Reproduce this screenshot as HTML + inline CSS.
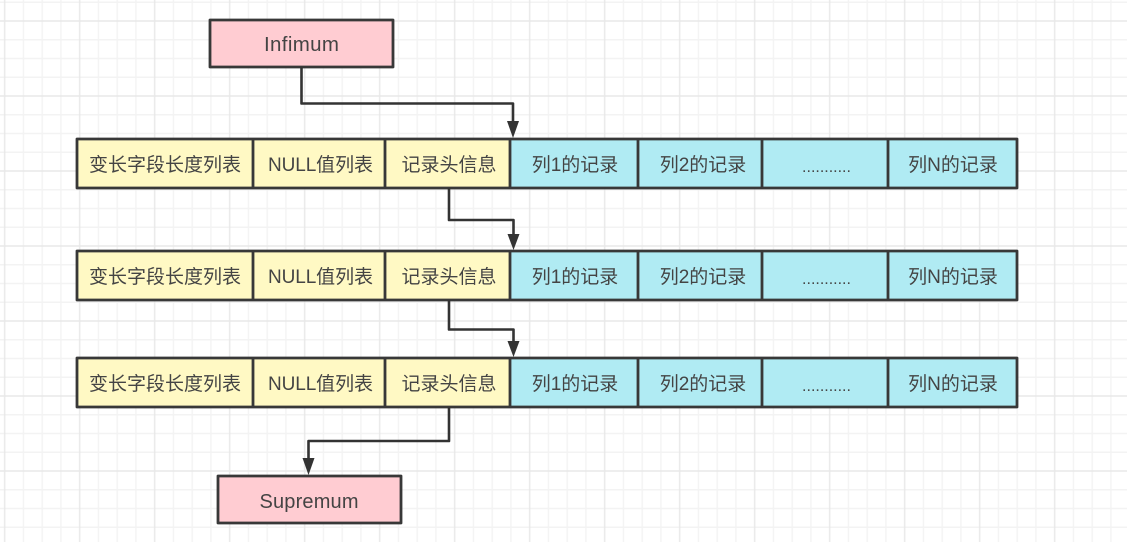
<!DOCTYPE html>
<html><head><meta charset="utf-8">
<style>
html,body{margin:0;padding:0;background:#fff}
svg{display:block}
text{font-family:"Liberation Sans","Noto Sans CJK SC",sans-serif;font-size:19px;fill:#444;text-anchor:middle}
</style></head><body>
<svg xmlns="http://www.w3.org/2000/svg" width="1127" height="542" viewBox="0 0 1127 542">
<defs>
<pattern id="g" width="75" height="75" patternUnits="userSpaceOnUse" x="3.7" y="20">
<path d="M19.75 0V75M38.5 0V75M57.25 0V75M0 19.75H75M0 38.5H75M0 57.25H75" stroke="#f3f3f3" stroke-width="1.4" fill="none"/>
<path d="M1 0V75M0 1H75" stroke="#e8e8e8" stroke-width="1.4" fill="none"/>
</pattern>
<g id="row">
<rect x="77" y="0" width="433" height="49" fill="#fff9c4"/>
<rect x="510" y="0" width="507" height="49" fill="#b0ebf3"/>
<path d="M77 0H1017V49H77ZM253 0V49M385 0V49M510 0V49M638 0V49M762 0V49M888 0V49" fill="none" stroke="#383838" stroke-width="2.8" stroke-linejoin="round"/>
<text x="165" y="32">变长字段长度列表</text>
<text x="320.500" y="32" textLength="105" lengthAdjust="spacing">NULL值列表</text>
<text x="449" y="32">记录头信息</text>
<text x="575" y="32">列1的记录</text>
<text x="703" y="32">列2的记录</text>
<text x="826.500" y="33" style="font-size:16px">...........</text>
<text x="953" y="32">列N的记录</text>
</g>
</defs>
<rect width="1127" height="542" fill="url(#g)"/>
<rect x="210" y="20" width="183" height="47" fill="#ffccd2" stroke="#383838" stroke-width="2.8" stroke-linejoin="round"/>
<text x="301.500" y="51" style="font-size:20.500px" textLength="75" lengthAdjust="spacing">Infimum</text>
<rect x="218" y="476" width="183" height="47" fill="#ffccd2" stroke="#383838" stroke-width="2.8" stroke-linejoin="round"/>
<text x="309" y="508" style="font-size:20px" textLength="99" lengthAdjust="spacing">Supremum</text>
<use href="#row" y="139"/>
<use href="#row" y="251"/>
<use href="#row" y="358"/>
<g fill="none" stroke="#333" stroke-width="2.6" stroke-linejoin="round">
<path d="M301.500 67V103.500H513V124"/>
<path d="M449 188V220H513.500V236"/>
<path d="M449 300V329.500H513.500V343"/>
<path d="M449 407V441H308.500V461"/>
</g>
<g fill="#333">
<path d="M507 121H519L513 138Z"/>
<path d="M507.500 234H519.500L513.500 250Z"/>
<path d="M507.500 341H519.500L513.500 357Z"/>
<path d="M302.500 458H314.500L308.500 475Z"/>
</g>
</svg>
</body></html>
